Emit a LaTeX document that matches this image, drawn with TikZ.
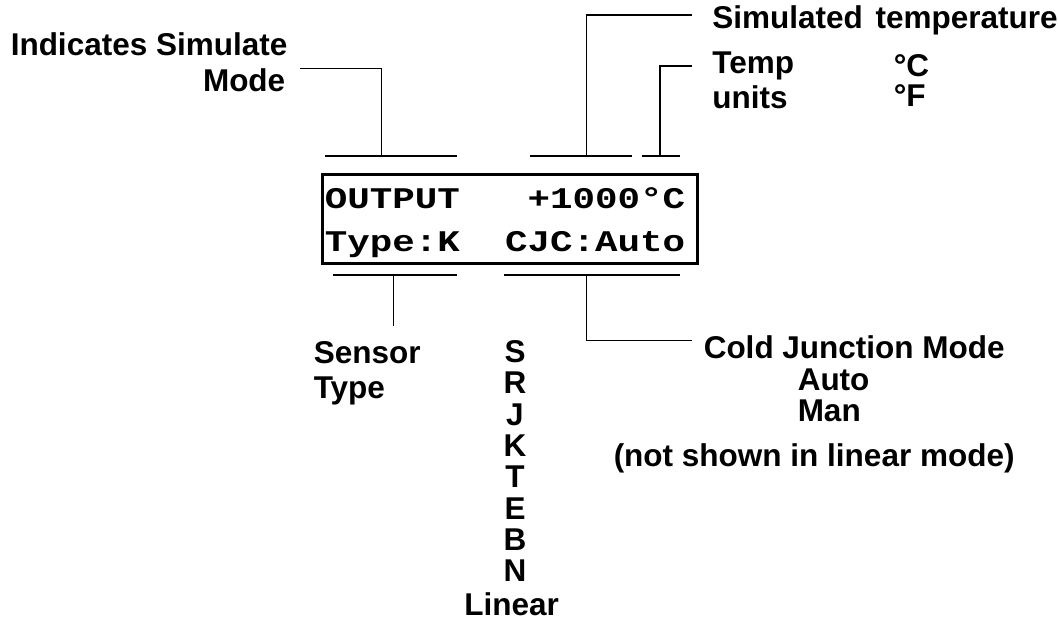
\documentclass[tikz,border=0pt]{standalone}
\usepackage{fontspec}
\newfontfamily\labelfont{Liberation Sans}
\newfontfamily\lcdfont[FakeStretch=1.25]{Liberation Mono}

\begin{document}
\begin{tikzpicture}[x=1pt, y=-1pt, line width=1.5pt,
		lbl/.style={font=\labelfont\bfseries\fontsize{31.5}{36}\selectfont, inner sep=0pt},
		lcd/.style={font=\lcdfont\bfseries\fontsize{30}{36}\selectfont, inner sep=0pt}]
	\useasboundingbox (0,0) rectangle (1058,629);
	% display
	\draw[line width=2.2pt] (322.5,174.5) rectangle (697.5,263.5);
	\node[lcd, anchor=base west] (outlbl) at (324,208.3) {OUTPUT};
	\node[lcd, anchor=base east] (templbl) at (686,208.3) {+1000°C};
	\node[lcd, anchor=base west] (typelbl) at (324,251.7) {Type:K};
	\node[lcd, anchor=base east] (cjclbl) at (686,251.7) {CJC:Auto};
	% bars over and under the display
	\foreach \b / \l / \m / \r / \y in {simbar/325/381.7/456.7/156, tempbar/530/586.7/631.7/156, unitbar/641.7/660/680/156, typebar/333/393.3/456.7/275, cjcbar/504/586.7/680/275} {
		\coordinate (\b L) at (\l,\y);
		\coordinate (\b M) at (\m,\y);
		\coordinate (\b R) at (\r,\y);
		\draw (\b L) -- (\b R);
	}
	% labels
	\node[lbl, anchor=base west] (indlbl) at (10,55) {Indicates Simulate};
	\node[lbl, anchor=base east] (modelbl) at (286,91.7) {Mode};
	\node[lbl, anchor=base west] (simlbl) at (711.7,28) {Simulated\hspace{0.4em}temperature};
	\node[lbl, anchor=base west] (templbl2) at (711.7,73) {Temp};
	\node[lbl, anchor=base west] (unitslbl) at (711.7,108) {units};
	\node[lbl, anchor=base west] (degc) at (893,76) {°C};
	\node[lbl, anchor=base west] (degf) at (893,106) {°F};
	\node[lbl, anchor=base west] (sensorlbl) at (313,363) {Sensor};
	\node[lbl, anchor=base west] (sensortype) at (313,398) {Type};
	\foreach \t [count=\i] in {S,R,J,K,T,E,B,N} {
		\node[lbl, anchor=base] (tc\i) at (515,{331.2+31.3*\i}) {\t};
	}
	\node[lbl, anchor=base] (linlbl) at (511.7,615) {Linear};
	\node[lbl, anchor=base west] (cjmlbl) at (703,358.5) {Cold Junction Mode};
	\node[lbl, anchor=base west] (autolbl) at (797,390) {Auto};
	\node[lbl, anchor=base west] (manlbl) at (797,421) {Man};
	\node[lbl, anchor=base west] (notelbl) at (613,466.5) {(not shown in linear mode)};
	% leaders
	\coordinate (modetick) at (300,68.3);
	\coordinate (simtick) at (691.7,15);
	\coordinate (unittick) at (691.7,66);
	\coordinate (typetick) at (393.3,326);
	\coordinate (cjctick) at (691.7,340.7);
	\draw (modetick) -| (simbarM);
	\draw (simtick) -| (tempbarM);
	\draw (unittick) -| (unitbarM);
	\draw (typebarM) -- (typetick);
	\draw (cjcbarM) |- (cjctick);
\end{tikzpicture}
\end{document}
